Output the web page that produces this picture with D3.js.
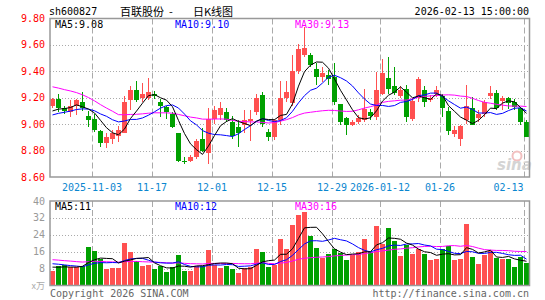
<!DOCTYPE html>
<html>
<head>
<meta charset="utf-8">
<script src="https://cdn.jsdelivr.net/npm/d3@7"></script>
<style>
  body { margin: 0; background: #fff; }
  text { font-family: "DejaVu Sans Mono", monospace; font-size: 10px; }
</style>
</head>
<body>
<script>
// Daily candles, 2025-10-23 .. 2026-02-13 (80 trading days)
const opens = [
  9.14, 9.19, 9.12, 9.09, 9.14, 9.17, 9.06, 9.04, 8.95, 8.86,
  8.89, 8.91, 8.935, 9.18, 9.255, 9.20, 9.20, 9.23, 9.17, 9.13,
  9.08, 8.93, 8.72, 8.72, 8.75, 8.89, 8.78, 9.04, 9.07, 9.09,
  9.02, 8.98, 8.99, 9.025, 9.09, 9.22, 8.94, 8.90, 9.03, 9.20,
  9.16, 9.40, 9.52, 9.52, 9.42, 9.36, 9.37, 9.357, 9.15, 9.043,
  8.99, 9.018, 9.03, 9.093, 9.055, 9.23, 9.35, 9.287, 9.21, 9.27,
  9.04, 9.20, 9.26, 9.18, 9.225, 9.21, 9.10, 8.925, 8.89, 9.03,
  9.12, 9.05, 9.075, 9.21, 9.235, 9.175, 9.195, 9.17, 9.12, 9.02
];
const highs = [
  9.20, 9.23, 9.14, 9.18, 9.19, 9.24, 9.10, 9.075, 8.955, 8.93,
  8.955, 8.985, 9.21, 9.29, 9.33, 9.31, 9.35, 9.25, 9.19, 9.14,
  9.09, 8.935, 8.755, 8.765, 8.89, 8.97, 9.12, 9.14, 9.17, 9.12,
  9.06, 9.03, 9.11, 9.11, 9.23, 9.24, 8.96, 9.04, 9.33, 9.33,
  9.52, 9.61, 9.735, 9.54, 9.46, 9.43, 9.41, 9.46, 9.15, 9.055,
  9.03, 9.068, 9.27, 9.118, 9.395, 9.49, 9.51, 9.43, 9.29, 9.30,
  9.20, 9.357, 9.29, 9.22, 9.29, 9.23, 9.13, 8.985, 8.99, 9.294,
  9.206, 9.105, 9.18, 9.287, 9.26, 9.21, 9.206, 9.19, 9.13, 9.03
];
const lows = [
  9.12, 9.09, 9.08, 9.055, 9.07, 9.10, 8.98, 8.94, 8.83, 8.82,
  8.85, 8.865, 8.93, 9.11, 9.165, 9.17, 9.18, 9.19, 9.055, 9.04,
  8.97, 8.71, 8.70, 8.715, 8.74, 8.79, 8.70, 9.005, 9.03, 9.02,
  8.89, 8.83, 8.93, 8.87, 9.07, 8.98, 8.87, 8.88, 8.99, 9.17,
  9.14, 9.38, 9.51, 9.43, 9.30, 9.32, 9.295, 9.144, 8.99, 8.917,
  8.985, 9.005, 9.018, 9.03, 9.03, 9.22, 9.226, 9.22, 9.20, 9.02,
  9.025, 9.17, 9.13, 9.17, 9.205, 9.055, 8.92, 8.90, 8.834, 9.005,
  8.99, 9.02, 9.055, 9.194, 9.106, 9.11, 9.118, 9.106, 8.99, 8.90
];
const closes = [
  9.19, 9.12, 9.10, 9.14, 9.18, 9.12, 9.03, 8.955, 8.86, 8.90,
  8.93, 8.955, 9.17, 9.26, 9.18, 9.23, 9.24, 9.21, 9.14, 9.09,
  8.98, 8.72, 8.715, 8.75, 8.87, 8.80, 9.04, 9.11, 9.12, 9.03,
  8.91, 8.93, 9.035, 9.04, 9.20, 9.00, 8.90, 9.03, 9.20, 9.24,
  9.40, 9.57, 9.58, 9.445, 9.36, 9.39, 9.345, 9.17, 9.018, 8.993,
  9.018, 9.048, 9.118, 9.063, 9.257, 9.387, 9.27, 9.237, 9.26, 9.055,
  9.175, 9.34, 9.17, 9.20, 9.26, 9.12, 8.95, 8.955, 8.985, 9.14,
  8.99, 9.075, 9.168, 9.235, 9.12, 9.20, 9.16, 9.13, 9.02, 8.90
];
// volume in 10k lots (x万)
const volumes = [
  7.1, 9.2, 9.8, 8.7, 8.7, 9.0, 18.3, 16.2, 12.7, 7.9,
  8.3, 8.3, 20.2, 15.9, 11.4, 9.2, 9.5, 7.6, 9.2, 6.3,
  8.7, 14.3, 7.1, 7.1, 9.2, 9.2, 16.7, 9.8, 8.3, 9.2,
  7.6, 6.0, 8.3, 8.7, 17.1, 15.9, 8.7, 9.8, 22.2, 17.5,
  28.6, 33.3, 34.9, 23.3, 17.8, 13.0, 15.1, 17.5, 15.6, 11.9,
  14.3, 15.9, 21.9, 15.9, 28.1, 19.5, 27.1, 21.0, 13.8, 19.0,
  14.8, 17.5, 14.8, 11.9, 12.5, 17.5, 18.6, 11.9, 12.5, 29.0,
  13.5, 10.0, 14.5, 16.5, 13.0, 12.4, 12.4, 8.7, 13.3, 10.6
];
// 29 sessions before the window, estimated from where the MA lines start
const prevCloses = [
  9.42, 9.45, 9.44, 9.55, 9.62, 9.66, 9.70, 9.72, 9.68, 9.65,
  9.73, 9.20, 9.18, 9.15, 9.12, 9.10, 9.12, 9.14, 9.10, 9.06,
  9.00, 9.02, 9.05, 9.06, 9.07, 9.05, 9.08, 9.10, 9.08
];
const prevVolumes = [
  15.0, 17.5, 14.8, 16.1, 15.0, 13.5, 11.0, 12.8, 14.0, 10.5,
  11.8, 13.2, 12.0, 11.5, 13.6, 12.4, 10.9, 12.7, 11.6, 13.1,
  11.5, 13.0, 12.0, 11.0, 12.0, 9.5, 8.8, 9.3, 8.8
];

const tickLabels = ["2025-11-03", "11-17", "12-01", "12-15", "12-29", "2026-01-12", "01-26", "02-13"];
const tickIndex = [7, 17, 27, 37, 47, 55, 65, 79];
const priceTicks = [9.8, 9.6, 9.4, 9.2, 9.0, 8.8, 8.6];
const volumeTicks = [40, 32, 24, 16, 8];

const up = '#ff5050', down = '#00a000', gridColor = '#aaa';
const maColors = {5: '#000', 10: '#0000ff', 30: '#ff00ff'};

const svg = d3.select('body')
  .append('svg')
  .attr('width', 545)
  .attr('height', 300);

const x = d3.scaleLinear().domain([0, closes.length]).range([50, 530]);
const yPrice = d3.scaleLinear().domain([8.6, 9.8]).range([177, 18.5]);
const yVol = d3.scaleLinear().domain([0, 40]).range([285.5, 201]);

/**
 * Moving average over the visible window, using the earlier sessions too
 */
function movingAverage(prev, values, n) {
  const all = prev.concat(values);
  return values.map((d, i) => d3.mean(all.slice(prev.length + i - n + 1, prev.length + i + 1)));
}

// header
svg.append('text').attr('x', 49).attr('y', 15).text('sh600827');
svg.append('text').attr('x', 120).attr('y', 15.5)
  .style('font-family', '"Noto Sans CJK SC"').style('font-size', '11px').text('百联股份');
svg.append('text').attr('x', 171).attr('y', 15.5).attr('text-anchor', 'middle')
  .style('font-family', '"Noto Sans CJK SC"').style('font-size', '11px').text('-');
svg.append('text').attr('x', 193).attr('y', 15.5)
  .style('font-family', '"Noto Sans CJK SC"').style('font-size', '11px').text('日K线图');
svg.append('text').attr('x', 529).attr('y', 15).attr('text-anchor', 'end').text('2026-02-13 15:00:00');

// horizontal grid + price labels
svg.selectAll('.pgrid').data(priceTicks.slice(1, -1)).enter().append('line')
  .attr('x1', 50).attr('x2', 530)
  .attr('y1', d => Math.round(yPrice(d)) + 0.5).attr('y2', d => Math.round(yPrice(d)) + 0.5)
  .attr('stroke', gridColor).attr('stroke-dasharray', '1,2');
svg.selectAll('.plabel').data(priceTicks).enter().append('text')
  .attr('x', 45).attr('y', d => yPrice(d) + 3.5).attr('text-anchor', 'end')
  .attr('fill', '#ff0000').text(d3.format('.2f'));

svg.selectAll('.vgrid').data(volumeTicks.slice(1)).enter().append('line')
  .attr('x1', 50).attr('x2', 530)
  .attr('y1', d => Math.round(yVol(d)) + 0.5).attr('y2', d => Math.round(yVol(d)) + 0.5)
  .attr('stroke', gridColor).attr('stroke-dasharray', '1,2');
svg.selectAll('.vlabel').data(volumeTicks).enter().append('text')
  .attr('x', 45).attr('y', d => yVol(d) + 3.5).attr('text-anchor', 'end')
  .attr('fill', '#999').text(d => d);
svg.append('text').attr('x', 45).attr('y', 289).attr('text-anchor', 'end')
  .attr('fill', '#aaa').style('font-family', '"Noto Sans CJK SC"').style('font-size', '9px').text('x万');

// vertical dashed grid in both panels
tickIndex.forEach(idx => {
  [[18.5, 177], [201, 285.5]].forEach(([y1, y2]) => {
    svg.append('line')
      .attr('x1', x(idx) + 0.5).attr('x2', x(idx) + 0.5)
      .attr('y1', y1).attr('y2', y2)
      .attr('stroke', gridColor).attr('stroke-dasharray', '6,3');
  });
});

// date labels, last one pulled inside the frame
tickLabels.forEach((label, k) => {
  const cx = x(tickIndex[k]);
  const w = label.length * 6;
  const t = svg.append('text').attr('y', 190.5).attr('fill', '#0a86cf').text(label);
  if (cx + w / 2 > 525) t.attr('x', 523.5).attr('text-anchor', 'end');
  else t.attr('x', cx).attr('text-anchor', 'middle');
});

// sina watermark
svg.append('circle').attr('cx', 517).attr('cy', 156).attr('r', 4.5)
  .attr('fill', 'none').attr('stroke', '#f2c0c0').attr('stroke-width', 2);
svg.append('text').attr('x', 497).attr('y', 170)
  .style('font-family', '"DejaVu Sans"').style('font-size', '15px')
  .style('font-weight', 'bold').style('font-style', 'italic')
  .attr('fill', '#d4d4d4').text('sina');

// candles
const candles = svg.append('g').attr('shape-rendering', 'crispEdges');
closes.forEach((c, i) => {
  const o = opens[i];
  const color = c >= o ? up : down;
  const left = x(i);
  candles.append('line')
    .attr('x1', left + 2.5).attr('x2', left + 2.5)
    .attr('y1', yPrice(highs[i])).attr('y2', yPrice(lows[i]))
    .attr('stroke', color);
  const top = yPrice(Math.max(o, c));
  candles.append('rect')
    .attr('x', left).attr('width', 5)
    .attr('y', top).attr('height', Math.max(1, yPrice(Math.min(o, c)) - top))
    .attr('fill', color);
});

// volume bars, coloured by close vs previous close
const allCloses = prevCloses.concat(closes);
volumes.forEach((v, i) => {
  const color = allCloses[prevCloses.length + i] >= allCloses[prevCloses.length + i - 1] ? up : down;
  candles.append('rect')
    .attr('x', x(i)).attr('width', 5)
    .attr('y', yVol(v)).attr('height', yVol(0) - yVol(v))
    .attr('fill', color);
});

// moving average lines
[30, 10, 5].forEach(n => {
  const pMa = movingAverage(prevCloses, closes, n);
  const vMa = movingAverage(prevVolumes, volumes, n);
  svg.append('path')
    .attr('d', d3.line().x((d, i) => x(i) + 2.5).y(d => yPrice(d))(pMa))
    .attr('fill', 'none').attr('stroke', maColors[n]).attr('stroke-width', 1);
  svg.append('path')
    .attr('d', d3.line().x((d, i) => x(i) + 2.5).y(d => yVol(d))(vMa))
    .attr('fill', 'none').attr('stroke', maColors[n]).attr('stroke-width', 1);
});

// MA legends
const maX = {5: 55, 10: 175, 30: 295};
[5, 10, 30].forEach(n => {
  const pLast = movingAverage(prevCloses, closes, n).slice(-1)[0];
  const vLast = movingAverage(prevVolumes, volumes, n).slice(-1)[0];
  svg.append('text').attr('x', maX[n]).attr('y', 28).attr('fill', maColors[n])
    .text('MA' + n + ':' + d3.format('.2f')(pLast));
  svg.append('text').attr('x', maX[n]).attr('y', 210).attr('fill', maColors[n])
    .text('MA' + n + ':' + Math.round(vLast));
});

// frames
[[18.5, 177], [201, 285.5]].forEach(([y1, y2]) => {
  svg.append('rect')
    .attr('x', 50).attr('y', y1).attr('width', 479.5).attr('height', y2 - y1)
    .attr('fill', 'none').attr('stroke', '#999').attr('stroke-width', 1.5);
});

// footer
svg.append('text').attr('x', 50).attr('y', 297).attr('fill', '#666').text('Copyright 2026 SINA.COM');
svg.append('text').attr('x', 529).attr('y', 297).attr('text-anchor', 'end').attr('fill', '#666')
  .text('http://finance.sina.com.cn');
</script>
</body>
</html>
